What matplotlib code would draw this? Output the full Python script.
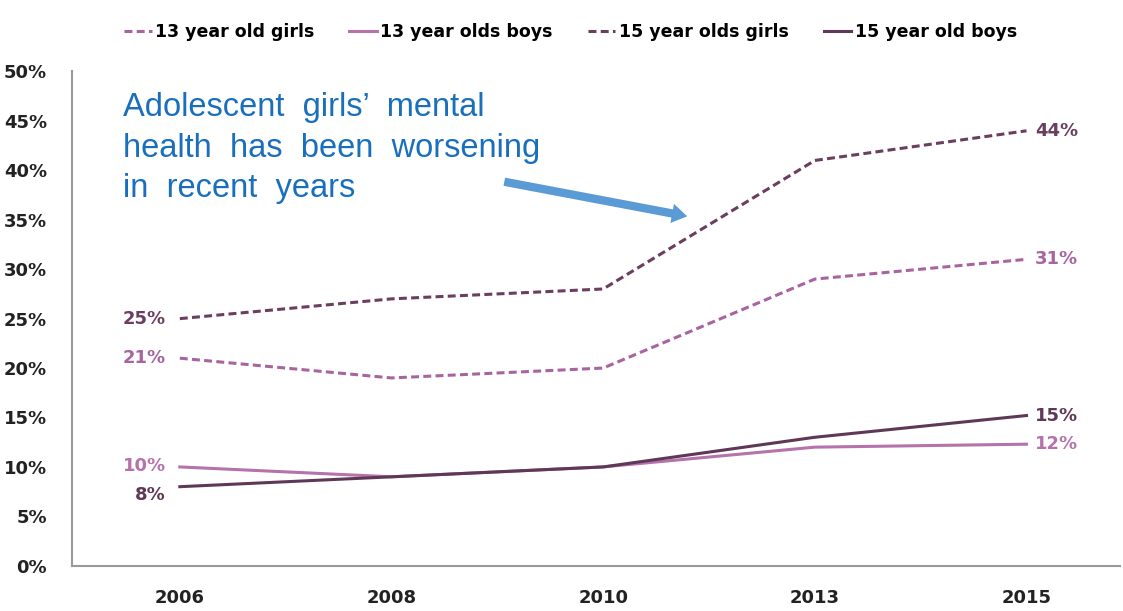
import matplotlib.pyplot as plt
import numpy as np

plt.rcParams['font.family'] = ['DejaVu Sans']

# data
years = ["2006", "2008", "2010", "2013", "2015"]
girls13 = [21, 19, 20, 29, 31]
boys13 = [10, 9, 10, 12, 12.3]
girls15 = [25, 27, 28, 41, 44]
boys15 = [8, 9, 10, 13, 15.2]

series = [
    ("13 year old girls", girls13, "#a8649f", "--"),
    ("13 year olds boys", boys13, "#b572ab", "-"),
    ("15 year olds girls", girls15, "#6a3e5f", "--"),
    ("15 year old boys", boys15, "#5e3856", "-"),
]
# start label offsets (points)
start_off = {"13 year old girls": 0, "13 year olds boys": 1,
             "15 year olds girls": 0, "15 year old boys": -6}

fig = plt.figure(figsize=(11.23, 6.11), dpi=100)
ax = fig.add_axes([0.064, 0.074, 0.933, 0.809])
x = np.arange(len(years))

for name, vals, col, ls in series:
    line, = ax.plot(x, vals, color=col, lw=2.2, ls=ls, label=name)
    if ls == "--":
        line.set_dashes((2.6, 1.4))
    ax.annotate(f"{round(vals[0])}%", (x[0], vals[0]), xytext=(-10, start_off[name]),
                textcoords="offset points", ha="right", va="center",
                color=col, fontsize=13, fontweight="bold")
    ax.annotate(f"{round(vals[-1])}%", (x[-1], vals[-1]), xytext=(6, 0),
                textcoords="offset points", ha="left", va="center",
                color=col, fontsize=13, fontweight="bold")

ax.set_xlim(-0.51, 4.44)
ax.set_ylim(0, 50)
ax.set_xticks(x)
ax.set_xticklabels(years, fontsize=13, fontweight="bold", color="#222222")
ax.set_yticks(np.arange(0, 51, 5))
ax.set_yticklabels([f"{v}%" for v in range(0, 51, 5)], fontsize=13,
                   fontweight="bold", color="#222222")
ax.tick_params(length=0)
ax.tick_params(axis="x", pad=17)
ax.tick_params(axis="y", pad=18)
for s in ["top", "right"]:
    ax.spines[s].set_visible(False)
for s in ["left", "bottom"]:
    ax.spines[s].set_color("#999999")
    ax.spines[s].set_linewidth(1.5)

ax.text(0.049, 0.958, "Adolescent  girls\u2019  mental\nhealth  has  been  worsening\nin  recent  years",
        transform=ax.transAxes, ha="left", va="top", fontsize=23.5,
        color="#1a6fbd", family=["Liberation Sans", "DejaVu Sans"], linespacing=1.4)
ax.annotate("", xy=(2.41, 35.3), xytext=(1.52, 38.9),
            arrowprops=dict(arrowstyle="simple,head_length=1.1,head_width=1.4,tail_width=0.6",
                            color="#5b9bd5", lw=0))

handles, labels = ax.get_legend_handles_labels()
fig.legend(handles, labels, loc="center", bbox_to_anchor=(0.508, 0.948), ncol=4,
           frameon=False, handlelength=1.6, handletextpad=0.2,
           columnspacing=2.0, prop={"weight": "bold", "size": 12.5})

plt.savefig("out.png", dpi=100)
